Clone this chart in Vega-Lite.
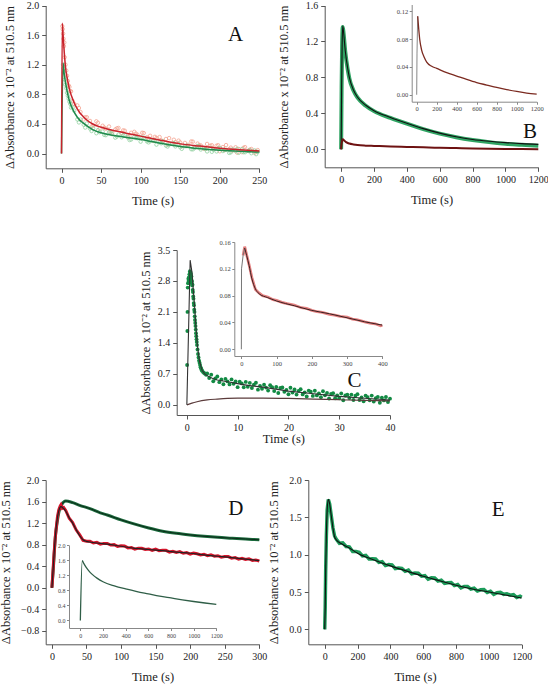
{
"$schema":"https://vega.github.io/schema/vega-lite/v6.json",
"width":548,"height":685,"padding":0,"autosize":{"type":"none"},"background":"white",
"config":{"view":{"stroke":null},"font":"Liberation Serif","style":{"guide-title":{"font":"Liberation Serif","fontWeight":"normal"},"guide-label":{"font":"Liberation Serif","fontWeight":"normal"}},"axis":{"grid":false,"domainColor":"#555","tickColor":"#555","labelFont":"Liberation Serif","labelColor":"#222","titleFont":"Liberation Serif","titleFontWeight":"normal","titleColor":"#222","labelFlush":false,"labelOverlap":false,"labelFontSize":10,"tickSize":4,"labelPadding":3,"titleFontSize":12.5}},
"datasets":{
"A_rpts":[{"t":1,"v":1.72},{"t":1.5,"v":1.68},{"t":2,"v":1.62},{"t":2.5,"v":1.55},{"t":3,"v":1.45},{"t":3.5,"v":1.5},{"t":4,"v":1.3},{"t":5,"v":1.2},{"t":6,"v":1.12},{"t":7,"v":1.05},{"t":8,"v":0.98},{"t":9,"v":0.92},{"t":10,"v":0.9},{"t":11,"v":0.84},
{"t":12,"v":0.84},{"t":16,"v":0.67},{"t":20,"v":0.65},{"t":24,"v":0.56},{"t":28,"v":0.46},{"t":32,"v":0.49},{"t":36,"v":0.44},{"t":40,"v":0.38},{"t":44,"v":0.435},{"t":48,"v":0.335},{"t":52,"v":0.375},{"t":56,"v":0.335},{"t":60,"v":0.365},{"t":64,"v":0.285},{"t":68,"v":0.325},{"t":72,"v":0.345},{"t":76,"v":0.278},{"t":80,"v":0.308},{"t":84,"v":0.23},{"t":88,"v":0.28},{"t":92,"v":0.293},{"t":96,"v":0.254},{"t":100,"v":0.215},{"t":104,"v":0.276},{"t":108,"v":0.218},{"t":112,"v":0.239},{"t":116,"v":0.17},{"t":120,"v":0.21},{"t":124,"v":0.222},{"t":128,"v":0.164},{"t":132,"v":0.196},{"t":136,"v":0.208},{"t":140,"v":0.13},{"t":144,"v":0.152},{"t":148,"v":0.174},{"t":152,"v":0.098},{"t":156,"v":0.143},{"t":160,"v":0.118},{"t":164,"v":0.163},{"t":168,"v":0.088},{"t":172,"v":0.134},{"t":176,"v":0.109},{"t":180,"v":0.064},{"t":184,"v":0.129},{"t":188,"v":0.104},{"t":192,"v":0.07},{"t":196,"v":0.105},{"t":200,"v":0.03},{"t":204,"v":0.087},{"t":208,"v":0.114},{"t":212,"v":0.06},{"t":216,"v":0.037},{"t":220,"v":0.084},{"t":224,"v":0.061},{"t":228,"v":0.018},{"t":232,"v":0.086},{"t":236,"v":0.034},{"t":240,"v":0.061},{"t":244,"v":0.009},{"t":248,"v":0.046},
{"t":14,"v":0.71},{"t":22,"v":0.615},{"t":30,"v":0.49},{"t":38,"v":0.365},{"t":46,"v":0.415},{"t":54,"v":0.35},{"t":62,"v":0.3},{"t":70,"v":0.34},{"t":78,"v":0.313},{"t":86,"v":0.235},{"t":94,"v":0.268},{"t":102,"v":0.28},{"t":110,"v":0.203},{"t":118,"v":0.225},{"t":126,"v":0.178},{"t":134,"v":0.122},{"t":142,"v":0.186},{"t":150,"v":0.15},{"t":158,"v":0.1},{"t":166,"v":0.16},{"t":174,"v":0.111},{"t":182,"v":0.061},{"t":190,"v":0.112},{"t":198,"v":0.112},{"t":206,"v":0.045},{"t":214,"v":0.079},{"t":222,"v":0.012},{"t":230,"v":0.077},{"t":238,"v":0.052},{"t":246,"v":0.027}],
"A_gpts":[{"t":2,"v":1.2},{"t":2.5,"v":1.15},{"t":3,"v":1.1},{"t":4,"v":1.0},{"t":5,"v":0.93},{"t":6,"v":0.88},{"t":7,"v":0.82},{"t":8,"v":0.78},{"t":9,"v":0.74},{"t":10,"v":0.7},{"t":11,"v":0.67},
{"t":12,"v":0.62},{"t":16,"v":0.58},{"t":20,"v":0.46},{"t":24,"v":0.46},{"t":28,"v":0.39},{"t":32,"v":0.406},{"t":36,"v":0.338},{"t":40,"v":0.34},{"t":44,"v":0.274},{"t":48,"v":0.288},{"t":52,"v":0.296},{"t":56,"v":0.248},{"t":60,"v":0.29},{"t":64,"v":0.262},{"t":68,"v":0.214},{"t":72,"v":0.256},{"t":76,"v":0.219},{"t":80,"v":0.252},{"t":84,"v":0.216},{"t":88,"v":0.189},{"t":92,"v":0.223},{"t":96,"v":0.206},{"t":100,"v":0.16},{"t":104,"v":0.212},{"t":108,"v":0.164},{"t":112,"v":0.166},{"t":116,"v":0.178},{"t":120,"v":0.12},{"t":124,"v":0.152},{"t":128,"v":0.165},{"t":132,"v":0.107},{"t":136,"v":0.12},{"t":140,"v":0.133},{"t":144,"v":0.096},{"t":148,"v":0.129},{"t":152,"v":0.063},{"t":156,"v":0.098},{"t":160,"v":0.103},{"t":164,"v":0.058},{"t":168,"v":0.073},{"t":172,"v":0.099},{"t":176,"v":0.054},{"t":180,"v":0.071},{"t":184,"v":0.028},{"t":188,"v":0.075},{"t":192,"v":0.051},{"t":196,"v":0.028},{"t":200,"v":0.075},{"t":204,"v":0.033},{"t":208,"v":0.05},{"t":212,"v":0.008},{"t":216,"v":0.055},{"t":220,"v":0.033},{"t":224,"v":0.01},{"t":228,"v":0.059},{"t":232,"v":0.017},{"t":236,"v":0.036},{"t":240,"v":0.004},{"t":244,"v":0.042},{"t":248,"v":0.021},
{"t":14,"v":0.625},{"t":22,"v":0.42},{"t":30,"v":0.35},{"t":38,"v":0.304},{"t":46,"v":0.316},{"t":54,"v":0.252},{"t":62,"v":0.286},{"t":70,"v":0.23},{"t":78,"v":0.246},{"t":86,"v":0.182},{"t":94,"v":0.21},{"t":102,"v":0.216},{"t":110,"v":0.15},{"t":118,"v":0.174},{"t":126,"v":0.138},{"t":134,"v":0.094},{"t":142,"v":0.14},{"t":150,"v":0.085},{"t":158,"v":0.106},{"t":166,"v":0.056},{"t":174,"v":0.096},{"t":182,"v":0.06},{"t":190,"v":0.023},{"t":198,"v":0.066},{"t":206,"v":0.051},{"t":214,"v":0.016},{"t":222,"v":0.062},{"t":230,"v":0.018},{"t":238,"v":0.045},{"t":246,"v":-0.009}],
"A_rfit":[{"t":0,"v":0},{"t":1,"v":1.76},{"t":2,"v":1.6},{"t":3.5,"v":1.36},{"t":5,"v":1.17},{"t":7.5,"v":1.0},{"t":10,"v":0.87},{"t":15,"v":0.71},{"t":20,"v":0.6},{"t":30,"v":0.47},{"t":40,"v":0.395},{"t":50,"v":0.355},{"t":75,"v":0.29},{"t":100,"v":0.235},{"t":125,"v":0.18},{"t":150,"v":0.13},{"t":175,"v":0.1},{"t":200,"v":0.07},{"t":225,"v":0.05},{"t":250,"v":0.035}],
"A_gfit":[{"t":0,"v":0},{"t":2,"v":1.22},{"t":3.5,"v":1.07},{"t":5,"v":0.96},{"t":7.5,"v":0.82},{"t":10,"v":0.71},{"t":15,"v":0.58},{"t":20,"v":0.49},{"t":30,"v":0.39},{"t":40,"v":0.32},{"t":50,"v":0.28},{"t":75,"v":0.23},{"t":100,"v":0.19},{"t":125,"v":0.14},{"t":150,"v":0.095},{"t":175,"v":0.065},{"t":200,"v":0.045},{"t":225,"v":0.03},{"t":250,"v":0.02}],
"B_fit":[{"t":0,"v":0},{"t":3,"v":0.7},{"t":6,"v":1.15},{"t":10,"v":1.37},{"t":15,"v":1.3},{"t":25,"v":1.1},{"t":40,"v":0.9},{"t":50,"v":0.8},{"t":75,"v":0.66},{"t":100,"v":0.58},{"t":150,"v":0.49},{"t":200,"v":0.43},{"t":300,"v":0.355},{"t":400,"v":0.29},{"t":500,"v":0.23},{"t":600,"v":0.18},{"t":700,"v":0.14},{"t":800,"v":0.11},{"t":900,"v":0.09},{"t":1000,"v":0.075},{"t":1100,"v":0.063},{"t":1200,"v":0.055}],
"B_green":[{"t":0,"v":0},{"t":3,"v":0.7},{"t":6,"v":1.15},{"t":10,"v":1.36},{"t":15,"v":1.29},{"t":25,"v":1.09},{"t":40,"v":0.89},{"t":50,"v":0.79},{"t":75,"v":0.655},{"t":100,"v":0.575},{"t":150,"v":0.485},{"t":200,"v":0.425},{"t":300,"v":0.35},{"t":400,"v":0.285},{"t":500,"v":0.225},{"t":600,"v":0.175},{"t":700,"v":0.135},{"t":800,"v":0.104},{"t":900,"v":0.08},{"t":1000,"v":0.062},{"t":1100,"v":0.05},{"t":1200,"v":0.04}],
"B_red":[{"t":0,"v":0},{"t":3,"v":0.06},{"t":10,"v":0.113},{"t":20,"v":0.095},{"t":30,"v":0.08},{"t":50,"v":0.064},{"t":75,"v":0.054},{"t":100,"v":0.047},{"t":150,"v":0.041},{"t":200,"v":0.038},{"t":300,"v":0.032},{"t":400,"v":0.027},{"t":500,"v":0.022},{"t":600,"v":0.0175},{"t":700,"v":0.014},{"t":800,"v":0.0105},{"t":900,"v":0.0075},{"t":1000,"v":0.0048},{"t":1100,"v":0.0025},{"t":1200,"v":0.001}],
"C_pts":[{"t":0.05,"v":0.9},{"t":0.1,"v":1.67},{"t":0.13,"v":2.1},{"t":0.17,"v":2.65},{"t":0.22,"v":2.75},{"t":0.3,"v":2.85},{"t":0.35,"v":2.8},{"t":0.4,"v":2.88},{"t":0.45,"v":2.75},{"t":0.5,"v":2.95},{"t":0.55,"v":2.9},{"t":0.6,"v":3.02},{"t":0.65,"v":2.98},{"t":0.7,"v":3.0},{"t":0.75,"v":2.92},{"t":0.8,"v":2.96},{"t":0.85,"v":2.85},{"t":0.9,"v":2.9},{"t":0.95,"v":2.78},{"t":1.0,"v":2.8},{"t":1.05,"v":2.7},{"t":1.1,"v":2.72},{"t":1.15,"v":2.6},{"t":1.2,"v":2.55},{"t":1.25,"v":2.45},{"t":1.3,"v":2.4},{"t":1.35,"v":2.3},{"t":1.4,"v":2.25},{"t":1.45,"v":2.15},{"t":1.5,"v":2.1},{"t":1.55,"v":2.0},{"t":1.6,"v":1.92},{"t":1.65,"v":1.85},{"t":1.7,"v":1.78},{"t":1.75,"v":1.7},{"t":1.8,"v":1.62},{"t":1.85,"v":1.55},{"t":1.9,"v":1.48},{"t":1.95,"v":1.42},{"t":2.0,"v":1.35},{"t":2.1,"v":1.25},{"t":2.2,"v":1.15},{"t":2.3,"v":1.07},{"t":2.4,"v":1.0},{"t":2.5,"v":0.95},{"t":2.6,"v":0.9},{"t":2.7,"v":0.85},{"t":2.8,"v":0.82},{"t":2.9,"v":0.79},{"t":3.0,"v":0.77},{"t":3.2,"v":0.74},{"t":3.4,"v":0.72},{"t":3.6,"v":0.7},{"t":3.8,"v":0.68},
{"t":4.0,"v":0.71},{"t":4.4,"v":0.606},{"t":4.8,"v":0.682},{"t":5.2,"v":0.532},{"t":5.6,"v":0.596},{"t":6.0,"v":0.64},{"t":6.4,"v":0.512},{"t":6.8,"v":0.574},{"t":7.2,"v":0.466},{"t":7.6,"v":0.588},{"t":8.0,"v":0.53},{"t":8.4,"v":0.462},{"t":8.8,"v":0.574},{"t":9.2,"v":0.476},{"t":9.6,"v":0.528},{"t":10.0,"v":0.4},{"t":10.4,"v":0.522},{"t":10.8,"v":0.484},{"t":11.2,"v":0.396},{"t":11.6,"v":0.518},{"t":12.0,"v":0.41},{"t":12.4,"v":0.495},{"t":12.8,"v":0.379},{"t":13.2,"v":0.454},{"t":13.6,"v":0.499},{"t":14.0,"v":0.343},{"t":14.4,"v":0.428},{"t":14.8,"v":0.363},{"t":15.2,"v":0.456},{"t":15.6,"v":0.389},{"t":16.0,"v":0.322},{"t":16.4,"v":0.445},{"t":16.8,"v":0.398},{"t":17.2,"v":0.31},{"t":17.6,"v":0.403},{"t":18.0,"v":0.266},{"t":18.4,"v":0.379},{"t":18.8,"v":0.392},{"t":19.2,"v":0.294},{"t":19.6,"v":0.337},{"t":20.0,"v":0.24},{"t":20.4,"v":0.385},{"t":20.8,"v":0.28},{"t":21.2,"v":0.346},{"t":21.6,"v":0.231},{"t":22.0,"v":0.316},{"t":22.4,"v":0.351},{"t":22.8,"v":0.236},{"t":23.2,"v":0.282},{"t":23.6,"v":0.187},{"t":24.0,"v":0.322},{"t":24.4,"v":0.297},{"t":24.8,"v":0.202},{"t":25.2,"v":0.318},{"t":25.6,"v":0.213},{"t":26.0,"v":0.258},{"t":26.4,"v":0.173},{"t":26.8,"v":0.308},{"t":27.2,"v":0.214},{"t":27.6,"v":0.269},{"t":28.0,"v":0.144},{"t":28.4,"v":0.249},{"t":28.8,"v":0.264},{"t":29.2,"v":0.15},{"t":29.6,"v":0.215},{"t":30.0,"v":0.15},{"t":30.4,"v":0.257},{"t":30.8,"v":0.104},{"t":31.2,"v":0.21},{"t":31.6,"v":0.227},{"t":32.0,"v":0.154},{"t":32.4,"v":0.231},{"t":32.8,"v":0.108},{"t":33.2,"v":0.204},{"t":33.6,"v":0.241},{"t":34.0,"v":0.108},{"t":34.4,"v":0.165},{"t":34.8,"v":0.082},{"t":35.2,"v":0.208},{"t":35.6,"v":0.175},{"t":36.0,"v":0.102},{"t":36.4,"v":0.209},{"t":36.8,"v":0.076},{"t":37.2,"v":0.152},{"t":37.6,"v":0.179},{"t":38.0,"v":0.046},{"t":38.4,"v":0.163},{"t":38.8,"v":0.1},{"t":39.2,"v":0.176},{"t":39.6,"v":0.063},{"t":40.0,"v":0.14}],
"C_fit":[{"t":0,"v":0},{"t":0.65,"v":3.27},{"t":1.0,"v":3.0},{"t":1.2,"v":2.7},{"t":1.5,"v":2.26},{"t":1.8,"v":1.75},{"t":2.1,"v":1.32},{"t":2.5,"v":0.98},{"t":3.0,"v":0.78},{"t":3.5,"v":0.7},{"t":4,"v":0.66},{"t":5,"v":0.6},{"t":6,"v":0.56},{"t":8,"v":0.52},{"t":10,"v":0.48},{"t":12,"v":0.44},{"t":15,"v":0.4},{"t":20,"v":0.31},{"t":25,"v":0.25},{"t":30,"v":0.19},{"t":35,"v":0.15},{"t":40,"v":0.11}],
"C_low":[{"t":0,"v":0},{"t":1,"v":0.04},{"t":2,"v":0.07},{"t":4,"v":0.11},{"t":6,"v":0.13},{"t":8,"v":0.145},{"t":10,"v":0.15},{"t":15,"v":0.152},{"t":20,"v":0.145},{"t":25,"v":0.13},{"t":30,"v":0.115},{"t":35,"v":0.1},{"t":40,"v":0.09}],
"C_in_fit":[{"t":9.5,"v":0.151},{"t":15,"v":0.14},{"t":22,"v":0.125},{"t":30,"v":0.105},{"t":40,"v":0.09},{"t":50,"v":0.083},{"t":75,"v":0.077},{"t":100,"v":0.072},{"t":150,"v":0.065},{"t":200,"v":0.058},{"t":250,"v":0.053},{"t":300,"v":0.047},{"t":350,"v":0.041},{"t":400,"v":0.036}],
"C_in_red":[{"t":5,"v":0.14},{"t":9.5,"v":0.153},{"t":15,"v":0.141},{"t":22,"v":0.126},{"t":30,"v":0.107},{"t":40,"v":0.089},{"t":50,"v":0.084},{"t":60,"v":0.08},{"t":75,"v":0.078},{"t":90,"v":0.074},{"t":100,"v":0.073},{"t":115,"v":0.07},{"t":130,"v":0.068},{"t":150,"v":0.066},{"t":170,"v":0.062},{"t":185,"v":0.061},{"t":200,"v":0.058},{"t":215,"v":0.056},{"t":230,"v":0.055},{"t":250,"v":0.052},{"t":265,"v":0.051},{"t":280,"v":0.049},{"t":300,"v":0.048},{"t":315,"v":0.045},{"t":330,"v":0.044},{"t":350,"v":0.041},{"t":365,"v":0.039},{"t":380,"v":0.038},{"t":395,"v":0.035},{"t":400,"v":0.036}],
"C_in_rise":[{"t":0,"v":0},{"t":0.5,"v":0.12},{"t":5,"v":0.14},{"t":9.5,"v":0.151}],
"D_green":[{"t":0,"v":0},{"t":2,"v":0.35},{"t":5,"v":0.95},{"t":8,"v":1.25},{"t":10,"v":1.4},{"t":14,"v":1.54},{"t":20,"v":1.61},{"t":30,"v":1.58},{"t":40,"v":1.53},{"t":55,"v":1.47},{"t":70,"v":1.39},{"t":80,"v":1.35},{"t":100,"v":1.26},{"t":120,"v":1.18},{"t":140,"v":1.11},{"t":160,"v":1.05},{"t":180,"v":1.01},{"t":200,"v":0.98},{"t":220,"v":0.955},{"t":240,"v":0.935},{"t":260,"v":0.92},{"t":280,"v":0.905},{"t":300,"v":0.89}],
"D_rfit":[{"t":0,"v":0},{"t":3,"v":0.6},{"t":5,"v":0.95},{"t":8,"v":1.3},{"t":10,"v":1.43},{"t":13,"v":1.505},{"t":16,"v":1.48},{"t":20,"v":1.42},{"t":25,"v":1.3},{"t":30,"v":1.2},{"t":35,"v":1.08},{"t":40,"v":0.97},{"t":45,"v":0.89},{"t":50,"v":0.86},{"t":60,"v":0.84},{"t":80,"v":0.81},{"t":100,"v":0.77},{"t":120,"v":0.73},{"t":140,"v":0.71},{"t":160,"v":0.69},{"t":180,"v":0.66},{"t":200,"v":0.64},{"t":220,"v":0.61},{"t":240,"v":0.585},{"t":260,"v":0.56},{"t":280,"v":0.53},{"t":300,"v":0.505}],
"D_red":[{"t":0,"v":0},{"t":2,"v":0.4},{"t":3,"v":0.62},{"t":5,"v":0.96},{"t":8,"v":1.32},{"t":10,"v":1.45},{"t":12,"v":1.52},{"t":13,"v":1.54},{"t":15,"v":1.475},{"t":17,"v":1.49},{"t":20,"v":1.435},{"t":25,"v":1.29},{"t":30,"v":1.21},{"t":35,"v":1.075},{"t":40,"v":0.985},{"t":45,"v":0.88},{"t":50,"v":0.865},{"t":55,"v":0.865},{"t":60,"v":0.83},{"t":65,"v":0.842},{"t":70,"v":0.81},{"t":75,"v":0.823},{"t":80,"v":0.8225},{"t":85,"v":0.7925},{"t":90,"v":0.8},{"t":95,"v":0.7675},{"t":100,"v":0.7775},{"t":105,"v":0.775},{"t":110,"v":0.74},{"t":115,"v":0.745},{"t":120,"v":0.715},{"t":125,"v":0.735},{"t":130,"v":0.7325},{"t":135,"v":0.71},{"t":140,"v":0.72},{"t":145,"v":0.695},{"t":150,"v":0.715},{"t":155,"v":0.6875},{"t":160,"v":0.695},{"t":165,"v":0.6945},{"t":170,"v":0.6625},{"t":175,"v":0.678},{"t":180,"v":0.655},{"t":185,"v":0.67},{"t":190,"v":0.64},{"t":195,"v":0.6525},{"t":200,"v":0.625},{"t":205,"v":0.642},{"t":210,"v":0.63},{"t":215,"v":0.608},{"t":220,"v":0.6225},{"t":225,"v":0.5965},{"t":230,"v":0.613},{"t":235,"v":0.586},{"t":240,"v":0.595},{"t":245,"v":0.5665},{"t":250,"v":0.578},{"t":255,"v":0.5785},{"t":260,"v":0.55},{"t":265,"v":0.5595},{"t":270,"v":0.53},{"t":275,"v":0.548},{"t":280,"v":0.525},{"t":285,"v":0.539},{"t":290,"v":0.508},{"t":295,"v":0.516},{"t":300,"v":0.4975}],
"D_in":[{"t":0,"v":0},{"t":17,"v":1.59},{"t":30,"v":1.52},{"t":50,"v":1.42},{"t":75,"v":1.32},{"t":100,"v":1.24},{"t":150,"v":1.12},{"t":200,"v":1.03},{"t":300,"v":0.92},{"t":400,"v":0.84},{"t":500,"v":0.77},{"t":600,"v":0.71},{"t":700,"v":0.65},{"t":800,"v":0.6},{"t":900,"v":0.55},{"t":1000,"v":0.505},{"t":1100,"v":0.465},{"t":1200,"v":0.43}],
"E_fit":[{"t":0,"v":0},{"t":3,"v":0.3},{"t":6,"v":0.8},{"t":10,"v":1.25},{"t":15,"v":1.6},{"t":22,"v":1.74},{"t":30,"v":1.68},{"t":40,"v":1.52},{"t":50,"v":1.36},{"t":60,"v":1.24},{"t":70,"v":1.2},{"t":100,"v":1.15},{"t":150,"v":1.09},{"t":200,"v":1.02},{"t":300,"v":0.93},{"t":400,"v":0.85},{"t":500,"v":0.78},{"t":600,"v":0.71},{"t":700,"v":0.65},{"t":800,"v":0.59},{"t":900,"v":0.54},{"t":1000,"v":0.5},{"t":1100,"v":0.46},{"t":1200,"v":0.42}],
"E_green":[{"t":0,"v":0},{"t":3,"v":0.3},{"t":6,"v":0.8},{"t":10,"v":1.25},{"t":15,"v":1.6},{"t":22,"v":1.74},{"t":30,"v":1.68},{"t":40,"v":1.52},{"t":50,"v":1.36},{"t":60,"v":1.25},{"t":70,"v":1.21},{"t":90,"v":1.152},{"t":110,"v":1.158},{"t":130,"v":1.109},{"t":150,"v":1.105},{"t":170,"v":1.042},{"t":190,"v":1.044},{"t":210,"v":1.031},{"t":230,"v":0.983},{"t":250,"v":0.99},{"t":270,"v":0.942},{"t":290,"v":0.944},{"t":310,"v":0.942},{"t":330,"v":0.896},{"t":350,"v":0.905},{"t":370,"v":0.854},{"t":390,"v":0.868},{"t":410,"v":0.863},{"t":430,"v":0.814},{"t":450,"v":0.82},{"t":470,"v":0.816},{"t":490,"v":0.777},{"t":510,"v":0.793},{"t":530,"v":0.744},{"t":550,"v":0.755},{"t":570,"v":0.751},{"t":590,"v":0.712},{"t":610,"v":0.719},{"t":630,"v":0.672},{"t":650,"v":0.69},{"t":670,"v":0.688},{"t":690,"v":0.646},{"t":710,"v":0.659},{"t":730,"v":0.617},{"t":750,"v":0.625},{"t":770,"v":0.628},{"t":790,"v":0.586},{"t":810,"v":0.6},{"t":830,"v":0.555},{"t":850,"v":0.575},{"t":870,"v":0.575},{"t":890,"v":0.54},{"t":910,"v":0.551},{"t":930,"v":0.513},{"t":950,"v":0.53},{"t":970,"v":0.532},{"t":990,"v":0.494},{"t":1010,"v":0.511},{"t":1030,"v":0.468},{"t":1050,"v":0.49},{"t":1070,"v":0.497},{"t":1090,"v":0.469},{"t":1110,"v":0.476},{"t":1130,"v":0.458},{"t":1150,"v":0.465},{"t":1170,"v":0.427},{"t":1190,"v":0.444},{"t":1200,"v":0.43}]
},
"layer":[
{"encoding":{
 "x":{"field":"t","type":"quantitative","scale":{"domain":[-50,1200],"range":[411.7,536.7],"nice":false,"zero":false},"axis":{"title":null,"orient":"bottom","offset":-583.3,"values":[0,200,400,600,800,1000,1200],"format":"d","labelFont":"Liberation Serif","labelFontSize":6.5,"tickSize":2.5,"labelPadding":1.5,"domainColor":"#888","tickColor":"#888","labelColor":"#444"}},
 "y":{"field":"v","type":"quantitative","scale":{"domain":[-0.01,0.13],"range":[101.7,4.5],"nice":false,"zero":false},"axis":{"title":null,"orient":"left","offset":-411.7,"values":[0,0.04,0.08,0.12],"format":".2f","labelFont":"Liberation Serif","labelFontSize":6.5,"tickSize":2.5,"labelPadding":1.5,"domainColor":"#888","tickColor":"#888","labelColor":"#444"}}},
 "layer":[
  {"data":{"name":"B_red"},"transform":[{"filter":"datum.t <= 10"}],"mark":{"type":"line","color":"#888","strokeWidth":1}},
  {"data":{"name":"B_red"},"transform":[{"filter":"datum.t >= 10"}],"mark":{"type":"line","color":"#7b2a20","strokeWidth":1.3,"interpolate":"monotone"}}
 ]},
{"encoding":{
 "x":{"field":"t","type":"quantitative","scale":{"domain":[-20,400],"range":[234.3,382.3],"nice":false,"zero":false},"axis":{"title":null,"orient":"bottom","offset":-329,"values":[0,100,200,300,400],"format":"d","labelFont":"Liberation Serif","labelFontSize":6.5,"tickSize":2.5,"labelPadding":1.5,"domainColor":"#888","tickColor":"#888","labelColor":"#444"}},
 "y":{"field":"v","type":"quantitative","scale":{"domain":[-0.01,0.16],"range":[356,242],"nice":false,"zero":false},"axis":{"title":null,"orient":"left","offset":-234.3,"values":[0,0.04,0.08,0.12,0.16],"format":".2f","labelFont":"Liberation Serif","labelFontSize":6.5,"tickSize":2.5,"labelPadding":1.5,"domainColor":"#888","tickColor":"#888","labelColor":"#444"}}},
 "layer":[
  {"data":{"name":"C_in_red"},"mark":{"type":"line","color":"#e58080","strokeWidth":2.8}},
  {"data":{"name":"C_in_rise"},"mark":{"type":"line","color":"#777","strokeWidth":1}},
  {"data":{"name":"C_in_fit"},"mark":{"type":"line","color":"#3a2020","strokeWidth":1,"interpolate":"monotone"}}
 ]},
{"encoding":{
 "x":{"field":"t","type":"quantitative","scale":{"domain":[-100,1200],"range":[69,216.3],"nice":false,"zero":false},"axis":{"title":null,"orient":"bottom","offset":-57,"values":[0,200,400,600,800,1000,1200],"format":"d","labelFont":"Liberation Serif","labelFontSize":6,"tickSize":2.5,"labelPadding":1.5,"domainColor":"#888","tickColor":"#888","labelColor":"#444"}},
 "y":{"field":"v","type":"quantitative","scale":{"domain":[-0.2,2.0],"range":[628,545.3],"nice":false,"zero":false},"axis":{"title":null,"orient":"left","offset":-69,"values":[0,0.4,0.8,1.2,1.6,2.0],"format":".1f","labelFont":"Liberation Serif","labelFontSize":6,"tickSize":2.5,"labelPadding":1.5,"domainColor":"#888","tickColor":"#888","labelColor":"#444"}}},
 "layer":[
  {"data":{"name":"D_in"},"mark":{"type":"line","color":"#2f5e47","strokeWidth":1.3,"interpolate":"monotone"}}
 ]},
{"encoding":{
 "x":{"field":"t","type":"quantitative","scale":{"domain":[-20,250],"range":[45.7,259.3],"nice":false,"zero":false},"axis":{"title":"Time (s)","orient":"bottom","offset":-516.7,"values":[0,50,100,150,200,250],"format":"d","titlePadding":9,"labelFont":"Liberation Serif","titleFont":"Liberation Serif","titleFontWeight":"normal"}},
 "y":{"field":"v","type":"quantitative","scale":{"domain":[-0.2,2.0],"range":[168.3,5.5],"nice":false,"zero":false},"axis":{"title":"ΔAbsorbance x 10⁻² at 510.5 nm","orient":"left","offset":-45.7,"values":[0,0.4,0.8,1.2,1.6,2.0],"format":".1f","titlePadding":10,"labelFont":"Liberation Serif","titleFont":"Liberation Serif","titleFontWeight":"normal"}}},
 "layer":[
  {"data":{"name":"A_rpts"},"mark":{"type":"point","filled":false,"color":"#f4a08c","size":12,"strokeWidth":0.8,"opacity":0.95}},
  {"data":{"name":"A_gpts"},"mark":{"type":"point","filled":false,"color":"#8fd19e","size":12,"strokeWidth":0.8,"opacity":0.95}},
  {"data":{"name":"A_gfit"},"mark":{"type":"line","color":"#1f8a4c","strokeWidth":1.5,"interpolate":"monotone"}},
  {"data":{"name":"A_rfit"},"mark":{"type":"line","color":"#c8232c","strokeWidth":1.5,"interpolate":"monotone"}},
  {"data":{"values":[{"t":220,"v":1.6,"label":"A"}]},"mark":{"type":"text","font":"Liberation Serif","fontSize":21,"color":"#111"},"encoding":{"text":{"field":"label"}}}
 ]},
{"encoding":{
 "x":{"field":"t","type":"quantitative","scale":{"domain":[-100,1200],"range":[324.7,538.3],"nice":false,"zero":false},"axis":{"title":"Time (s)","orient":"bottom","offset":-517.7,"values":[0,200,400,600,800,1000,1200],"format":"d","titlePadding":9,"labelFont":"Liberation Serif","titleFont":"Liberation Serif","titleFontWeight":"normal"}},
 "y":{"field":"v","type":"quantitative","scale":{"domain":[-0.2,1.6],"range":[167.3,5.5],"nice":false,"zero":false},"axis":{"title":"ΔAbsorbance x 10⁻² at 510.5 nm","orient":"left","offset":-324.7,"values":[0,0.4,0.8,1.2,1.6],"format":".1f","titlePadding":15,"labelFont":"Liberation Serif","titleFont":"Liberation Serif","titleFontWeight":"normal"}}},
 "layer":[
  {"data":{"name":"B_green"},"mark":{"type":"line","color":"#2fa463","strokeWidth":4,"interpolate":"monotone"}},
  {"data":{"name":"B_fit"},"mark":{"type":"line","color":"#111","strokeWidth":1.1,"interpolate":"monotone"}},
  {"data":{"name":"B_red"},"mark":{"type":"line","color":"#6e1212","strokeWidth":2,"interpolate":"monotone"}},
  {"data":{"values":[{"t":1150,"v":0.19,"label":"B"}]},"mark":{"type":"text","font":"Liberation Serif","fontSize":21,"color":"#111"},"encoding":{"text":{"field":"label"}}}
 ]},
{"encoding":{
 "x":{"field":"t","type":"quantitative","scale":{"domain":[-2,40],"range":[176.7,390],"nice":false,"zero":false},"axis":{"title":"Time (s)","orient":"bottom","offset":-270,"values":[0,10,20,30,40],"format":"d","titlePadding":0,"labelFont":"Liberation Serif","titleFont":"Liberation Serif","titleFontWeight":"normal"}},
 "y":{"field":"v","type":"quantitative","scale":{"domain":[-0.23,3.5],"range":[415,250],"nice":false,"zero":false},"axis":{"title":"ΔAbsorbance x 10⁻² at 510.5 nm","orient":"left","offset":-176.7,"values":[0,0.7,1.4,2.1,2.8,3.5],"format":".1f","titlePadding":5,"labelFont":"Liberation Serif","titleFont":"Liberation Serif","titleFontWeight":"normal"}}},
 "layer":[
  {"data":{"name":"C_pts"},"mark":{"type":"circle","color":"#128a43","size":15,"opacity":1}},
  {"data":{"name":"C_low"},"mark":{"type":"line","color":"#5b3b3b","strokeWidth":1.2,"interpolate":"monotone"}},
  {"data":{"name":"C_fit"},"mark":{"type":"line","color":"#333","strokeWidth":1.1}},
  {"data":{"values":[{"t":33,"v":0.53,"label":"C"}]},"mark":{"type":"text","font":"Liberation Serif","fontSize":21,"color":"#111"},"encoding":{"text":{"field":"label"}}}
 ]},
{"encoding":{
 "x":{"field":"t","type":"quantitative","scale":{"domain":[-9,300],"range":[45.7,259.3],"nice":false,"zero":false},"axis":{"title":"Time (s)","orient":"bottom","offset":-40.7,"values":[0,50,100,150,200,250,300],"format":"d","titlePadding":9,"labelFont":"Liberation Serif","titleFont":"Liberation Serif","titleFontWeight":"normal"}},
 "y":{"field":"v","type":"quantitative","scale":{"domain":[-1.05,2.0],"range":[644.3,480],"nice":false,"zero":false},"axis":{"title":"ΔAbsorbance x 10⁻² at 510.5 nm","orient":"left","offset":-45.7,"values":[-0.8,-0.4,0,0.4,0.8,1.2,1.6,2.0],"format":".1f","titlePadding":8,"labelFont":"Liberation Serif","titleFont":"Liberation Serif","titleFontWeight":"normal"}}},
 "layer":[
  {"data":{"name":"D_green"},"mark":{"type":"line","color":"#1a6a3c","strokeWidth":3,"interpolate":"monotone"}},
  {"data":{"name":"D_green"},"mark":{"type":"line","color":"#0c2a18","strokeWidth":1,"interpolate":"monotone"}},
  {"data":{"name":"D_red"},"mark":{"type":"line","color":"#d4142a","strokeWidth":3}},
  {"data":{"name":"D_rfit"},"mark":{"type":"line","color":"#222","strokeWidth":1.2,"interpolate":"monotone"}},
  {"data":{"values":[{"t":266,"v":1.46,"label":"D"}]},"mark":{"type":"text","font":"Liberation Serif","fontSize":21,"color":"#111"},"encoding":{"text":{"field":"label"}}}
 ]},
{"encoding":{
 "x":{"field":"t","type":"quantitative","scale":{"domain":[-100,1200],"range":[308.3,521.7],"nice":false,"zero":false},"axis":{"title":"Time (s)","orient":"bottom","offset":-40.7,"values":[0,200,400,600,800,1000,1200],"format":"d","titlePadding":9,"labelFont":"Liberation Serif","titleFont":"Liberation Serif","titleFontWeight":"normal"}},
 "y":{"field":"v","type":"quantitative","scale":{"domain":[-0.2,2.0],"range":[644.3,480],"nice":false,"zero":false},"axis":{"title":"ΔAbsorbance x 10⁻² at 510.5 nm","orient":"left","offset":-308.3,"values":[0,0.5,1.0,1.5,2.0],"format":".1f","titlePadding":8,"labelFont":"Liberation Serif","titleFont":"Liberation Serif","titleFontWeight":"normal"}}},
 "layer":[
  {"data":{"name":"E_green"},"mark":{"type":"line","color":"#1c9c5a","strokeWidth":3.5}},
  {"data":{"name":"E_fit"},"mark":{"type":"line","color":"#111","strokeWidth":1.1,"interpolate":"monotone"}},
  {"data":{"values":[{"t":1056,"v":1.6,"label":"E"}]},"mark":{"type":"text","font":"Liberation Serif","fontSize":21,"color":"#111"},"encoding":{"text":{"field":"label"}}}
 ]}
],
"resolve":{"scale":{"x":"independent","y":"independent"}}
}
